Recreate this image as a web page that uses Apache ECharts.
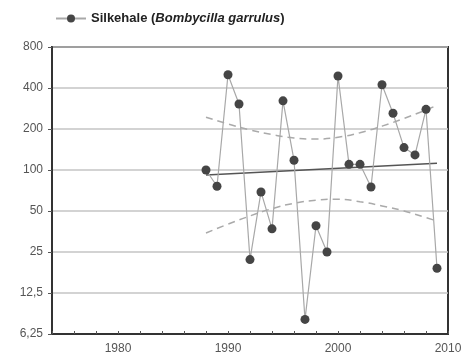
<!DOCTYPE html>
<html>
<head>
<meta charset="utf-8">
<script src="https://cdn.jsdelivr.net/npm/echarts@6/dist/echarts.min.js"></script>
<style>
  html, body { margin: 0; padding: 0; background: #fff; }
  #chart { width: 468px; height: 360px; }
</style>
</head>
<body>
<div id="chart"></div>
<script>
// === DATA ===
const years = [1988, 1989, 1990, 1991, 1992, 1993, 1994, 1995, 1996, 1997, 1998,
               1999, 2000, 2001, 2002, 2003, 2004, 2005, 2006, 2007, 2008, 2009];
const counts = [100, 76, 500, 305, 22, 69, 37, 322, 118, 8, 39,
                25, 490, 110, 110, 75, 423, 261, 146, 129, 279, 19];

// trend and confidence band
const trendYears = [1988, 2009];
const trendValues = [92, 112];
const bandYears = [1988, 1990, 1992, 1994, 1996, 1998, 2000, 2002, 2004, 2006, 2008, 2009];
const bandUpper = [244, 218, 197, 182, 172, 169, 174, 188, 210, 239, 276, 298];
const bandLower = [34.5, 40, 46, 52, 57, 60, 61, 58.5, 54.5, 50, 44.7, 42.2];

const yTickLabels = ['6,25', '12,5', '25', '50', '100', '200', '400', '800'];
const xTickLabels = ['1980', '1990', '2000', '2010'];

// log2 scale relative to the lowest tick (6.25)
const toLog = v => Math.log2(v / 6.25);
const pairs = (xs, vs) => xs.map((x, i) => [x, toLog(vs[i])]);

const chart = echarts.init(document.getElementById('chart'));

const font = 'Liberation Sans, Arial, sans-serif';

const option = {
    animation: false,
    legend: {
        left: 50,
        top: 7,
        itemWidth: 30,
        itemHeight: 10,
        itemGap: 8,
        data: ['silkehale'],
        formatter: () => '{a|Silkehale (}{b|Bombycilla garrulus}{a|)}',
        textStyle: {
            rich: {
                a: { fontFamily: font, fontSize: 13, fontWeight: 'bold', color: '#222' },
                b: { fontFamily: font, fontSize: 13, fontWeight: 'bold', fontStyle: 'italic', color: '#222' }
            }
        }
    },
    grid: {
        left: 52, right: 20, top: 47, bottom: 26,
        show: true,
        borderColor: '#333',
        borderWidth: 2
    },
    xAxis: {
        type: 'value',
        min: 1974,
        max: 2010,
        interval: 2,
        splitLine: { show: false },
        axisLine: { lineStyle: { color: '#333', width: 2 } },
        axisTick: { inside: true, length: 3, lineStyle: { color: '#555' } },
        axisLabel: {
            fontFamily: font,
            fontSize: 12,
            color: '#555',
            margin: 9,
            formatter: v => xTickLabels.includes(String(v)) ? String(v) : ''
        }
    },
    yAxis: {
        type: 'value',
        min: 0,
        max: 7,
        interval: 1,
        splitLine: { lineStyle: { color: '#c4c4c4', width: 1.5 } },
        axisLine: { lineStyle: { color: '#333', width: 2 } },
        axisTick: { show: true, length: 4, lineStyle: { color: '#555' } },
        axisLabel: {
            fontFamily: font,
            fontSize: 12,
            color: '#555',
            margin: 9,
            formatter: v => yTickLabels[v] || ''
        }
    },
    series: [
        {
            name: 'silkehale',
            type: 'line',
            data: pairs(years, counts),
            symbol: 'circle',
            symbolSize: 9,
            lineStyle: { color: '#a8a8a8', width: 1.2 },
            itemStyle: { color: '#454545' },
            z: 5
        },
        {
            name: 'trend',
            type: 'line',
            data: pairs(trendYears, trendValues),
            symbol: 'none',
            lineStyle: { color: '#555', width: 1.5 },
            z: 4
        },
        {
            name: 'upper',
            type: 'line',
            data: pairs(bandYears, bandUpper),
            smooth: true,
            symbol: 'none',
            lineStyle: { color: '#aaa', width: 1.5, type: [7, 5] },
            z: 3
        },
        {
            name: 'lower',
            type: 'line',
            data: pairs(bandYears, bandLower),
            smooth: true,
            symbol: 'none',
            lineStyle: { color: '#aaa', width: 1.5, type: [7, 5] },
            z: 3
        }
    ]
};

chart.setOption(option);
</script>
</body>
</html>
